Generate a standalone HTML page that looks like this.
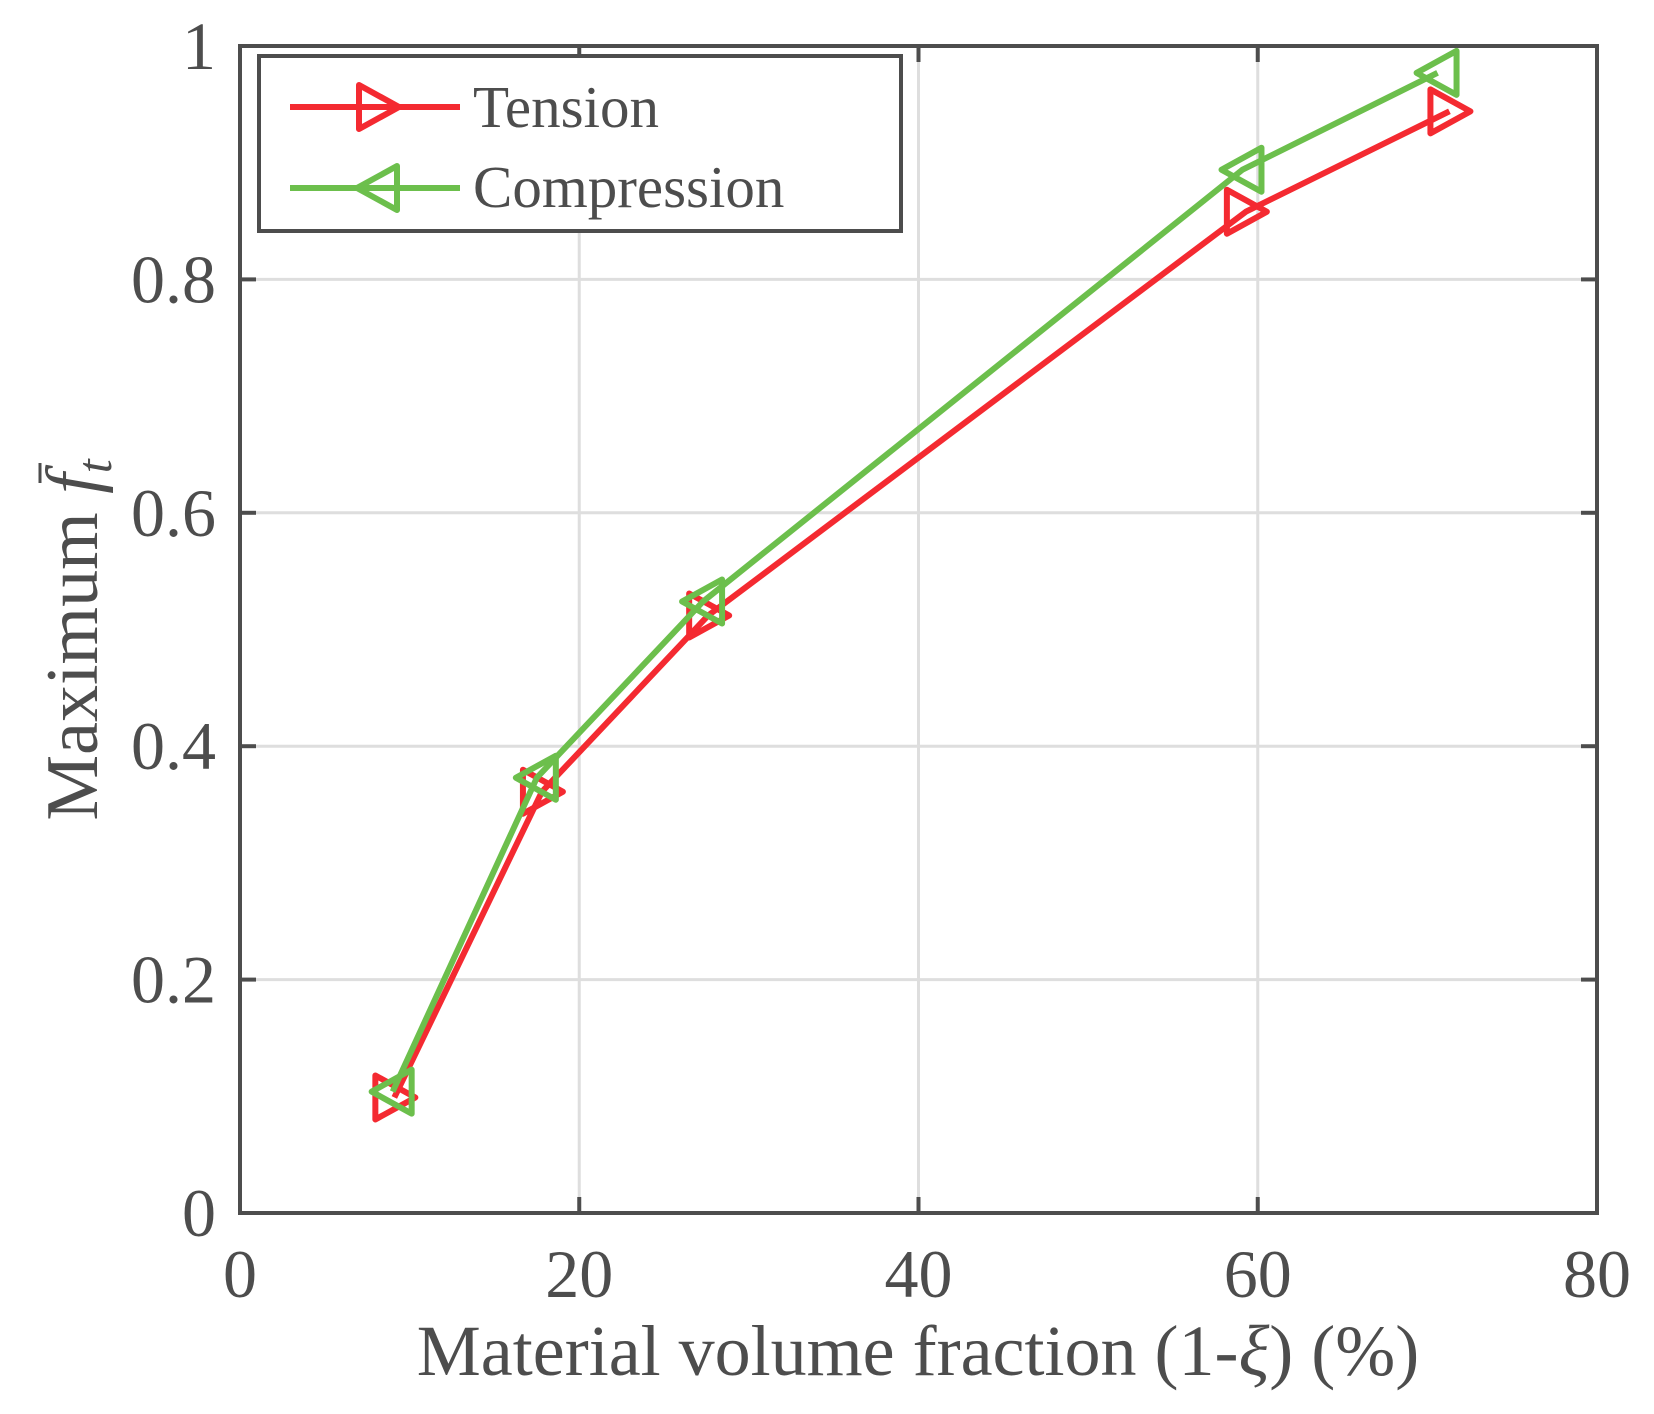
<!DOCTYPE html>
<html><head><meta charset="utf-8"><style>
html,body{margin:0;padding:0;background:#fff}
svg{display:block}
text{font-family:"Liberation Serif",serif;fill:#4d4d4d}
</style></head><body>
<svg id="chart" width="1654" height="1414" viewBox="0 0 1654 1414" xmlns="http://www.w3.org/2000/svg">
<g id="grid"></g>
<g id="axes"></g>
<g id="series"></g>
<text x="918" y="1375" font-size="72" text-anchor="middle">Material volume fraction (1-<tspan font-style="italic">ξ</tspan>) (%)</text>
<text transform="translate(97,640) rotate(-90)" font-size="74" text-anchor="middle">Maximum  <tspan font-style="italic">f</tspan><tspan font-style="italic" font-size="50" dy="14">t</tspan></text>
<line x1="40" y1="463" x2="40" y2="483" stroke="#4d4d4d" stroke-width="3"/>
<g>
<rect x="259" y="56" width="642" height="175" fill="#fff" stroke="#4d4d4d" stroke-width="4"/>
<g id="legend-items"></g>
</g>
</svg>
<script>
const xTicks=[0,20,40,60,80];
const yTicks=[0,0.2,0.4,0.6,0.8,1];
const yTickLabels=["0","0.2","0.4","0.6","0.8","1"];
const tensionX=[9.1,17.8,27.6,59.3,71.3];
const tensionY=[0.099,0.361,0.512,0.858,0.944];
const compressionX=[9.0,17.5,27.3,59.1,70.6];
const compressionY=[0.104,0.373,0.524,0.894,0.977];
const seriesNames=["Tension","Compression"];

const L=240,R=1597,T=46,B=1213;
const sx=v=>L+(v-0)/80*(R-L);
const sy=v=>B-(v-0)/1*(B-T);
const NS="http://www.w3.org/2000/svg";
function mk(tag,attrs,parent){const e=document.createElementNS(NS,tag);for(const k in attrs)e.setAttribute(k,attrs[k]);parent.appendChild(e);return e;}
const grid=document.getElementById('grid'),axes=document.getElementById('axes'),ser=document.getElementById('series');
xTicks.forEach(t=>{
  if(t>0&&t<80){const g=mk('line',{x1:sx(t),x2:sx(t),y1:T,y2:B,stroke:'#dedede','stroke-width':3},grid);
  
  }
  const tk=mk('line',{x1:sx(t),x2:sx(t),y1:B,y2:B-16,stroke:'#4d4d4d','stroke-width':4},axes);
  
  
  const tk2=mk('line',{x1:sx(t),x2:sx(t),y1:T,y2:T+16,stroke:'#4d4d4d','stroke-width':4},axes);
  
  
  const lb=mk('text',{x:sx(t),y:1297,'font-size':68,'text-anchor':'middle'},axes);
  lb.textContent=String(t);
  
  
});
yTicks.forEach((t,i)=>{
  if(t>0&&t<1){const g=mk('line',{x1:L,x2:R,y1:sy(t),y2:sy(t),stroke:'#dedede','stroke-width':3},grid);
  
  }
  const tk=mk('line',{x1:L,x2:L+16,y1:sy(t),y2:sy(t),stroke:'#4d4d4d','stroke-width':4},axes);
  
  
  const tk2=mk('line',{x1:R,x2:R-16,y1:sy(t),y2:sy(t),stroke:'#4d4d4d','stroke-width':4},axes);
  
  
  const lb=mk('text',{x:216,y:sy(t)+23,'font-size':68,'text-anchor':'end'},axes);
  lb.textContent=yTickLabels[i];
  
  
});
const frame=mk('rect',{x:L,y:T,width:R-L,height:B-T,fill:'none',stroke:'#4d4d4d','stroke-width':4},axes);



function tri(cx,cy,dir){const w=19,h=22;
  return dir>0?`${cx-w},${cy-h} ${cx+w+2},${cy} ${cx-w},${cy+h}`:`${cx+w},${cy-h} ${cx-w-2},${cy} ${cx+w},${cy+h}`;}
function drawSeries(xs,ys,color,dir,name){
  const pts=xs.map((x,i)=>sx(x)+','+sy(ys[i])).join(' ');
  const pl=mk('polyline',{points:pts,fill:'none',stroke:color,'stroke-width':6,'stroke-linejoin':'round'},ser);
  
  
  xs.forEach((x,i)=>{
    const m=mk('polygon',{points:tri(sx(x),sy(ys[i]),dir),fill:'none',stroke:color,'stroke-width':6,'stroke-linejoin':'round'},ser);
    
    
  });
}
drawSeries(tensionX,tensionY,'#f42a31',1,'tension');
drawSeries(compressionX,compressionY,'#6cbf4c',-1,'compression');

const li=document.getElementById('legend-items');
[['#f42a31',1,107,127],['#6cbf4c',-1,188,207]].forEach((c,i)=>{
  const ln=mk('line',{x1:290,x2:460,y1:c[2],y2:c[2],stroke:c[0],'stroke-width':6},li);
  
  
  const m=mk('polygon',{points:tri(378,c[2],c[1]),fill:'none',stroke:c[0],'stroke-width':6,'stroke-linejoin':'round'},li);
  
  
  const t=mk('text',{x:473,y:c[3],'font-size':59},li);
  t.textContent=seriesNames[i];
  
  
});
</script>
</body></html>
